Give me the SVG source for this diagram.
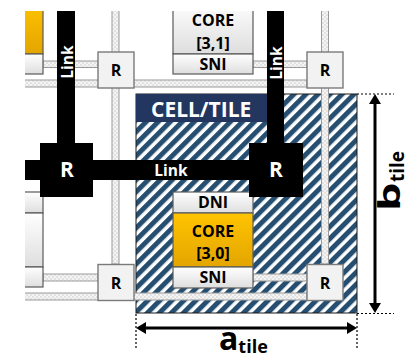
<svg xmlns="http://www.w3.org/2000/svg" width="409" height="359" viewBox="0 0 409 359">
<style>
text{font-family:"Open Sans","Liberation Sans",sans-serif;font-weight:bold}
.box{stroke:#5a5a5a;stroke-width:1.2}
.gray{fill:url(#gGray)}
.yel{fill:url(#gYel)}
.lbl{font-size:16px;fill:#000;text-anchor:middle}
.rtr rect{fill:#f2f2f2;stroke:#7a7a7a;stroke-width:1.4}
.rtr text{font-size:16px;fill:#000;text-anchor:middle}
.lnk{fill:url(#checker);stroke:#9a9a9a;stroke-width:1}
.blk{fill:#000}
.wt{fill:#fff;text-anchor:middle}
.dim{stroke:#000;stroke-width:3;fill:none}
.dot{stroke:#000;stroke-width:1.2;stroke-dasharray:2 2;fill:none}
</style>
<defs>
<linearGradient id="gGray" x1="0" y1="0" x2="0" y2="1"><stop offset="0" stop-color="#ffffff"/><stop offset="1" stop-color="#dedede"/></linearGradient>
<linearGradient id="gYel" x1="0" y1="0" x2="0" y2="1"><stop offset="0" stop-color="#ffc400"/><stop offset="1" stop-color="#e3a500"/></linearGradient>
<pattern id="checker" width="4" height="4" patternUnits="userSpaceOnUse"><rect width="4" height="4" fill="#f4f4f4"/><rect width="2" height="2" fill="#e2e2e2"/><rect x="2" y="2" width="2" height="2" fill="#e2e2e2"/></pattern>
<pattern id="hatch" width="8.5" height="8.5" patternUnits="userSpaceOnUse" patternTransform="rotate(45)"><rect width="8.5" height="8.5" fill="#fff"/><rect width="5" height="8.5" fill="#254e71"/></pattern>
<marker id="ah" viewBox="0 0 10 12" refX="6" refY="6" markerWidth="10" markerHeight="12" markerUnits="userSpaceOnUse" orient="auto-start-reverse"><path d="M0,0 L10,6 L0,12 z" fill="#000"/></marker>
<clipPath id="cp"><rect x="25" y="11" width="384" height="348"/></clipPath>
</defs>
<g clip-path="url(#cp)">
<g id="cell-tile">
<rect x="136" y="94" width="221" height="219" fill="url(#hatch)" stroke="#1a1a1a" stroke-width="1"/>
<rect x="136" y="94" width="132" height="28" fill="#23365f"/>
<text x="151" y="117" font-size="21" fill="#fff">CELL/TILE</text>
</g>
<g id="connectors">
<rect class="lnk" x="112" y="0" width="7" height="264"/>
<rect class="lnk" x="321.5" y="0" width="7" height="264"/>
<rect class="lnk" x="43" y="61" width="55" height="6.5"/>
<rect class="lnk" x="253" y="61" width="54" height="6.5"/>
<rect class="lnk" x="0" y="80" width="307" height="7"/>
<rect class="lnk" x="43" y="274" width="55" height="7"/>
<rect class="lnk" x="253" y="274" width="54" height="7"/>
<rect class="lnk" x="0" y="293" width="307" height="7"/>
<g id="black-links">
<rect class="blk" x="57" y="0" width="18" height="145"/>
<rect class="blk" x="267" y="0" width="17" height="145"/>
<rect class="blk" x="0" y="160" width="251" height="20"/>
<text class="wt" font-size="15.5" transform="translate(73,62) rotate(-90)">Link</text>
<text class="wt" font-size="15.5" transform="translate(282,63) rotate(-90)">Link</text>
<text class="wt" x="171" y="176" font-size="15.5">Link</text>
</g>
</g>
<g id="core-2-1">
<rect class="box yel" x="0" y="0" width="43" height="54"/>
<rect class="box gray" x="0" y="54" width="43" height="20"/>
</g>
<g id="core-2-0">
<rect class="box gray" x="0" y="192" width="43" height="21"/>
<rect class="box gray" x="0" y="213" width="43" height="54"/>
<rect class="box gray" x="0" y="267" width="43" height="20"/>
</g>
<g id="core-3-1">
<rect class="box gray" x="173" y="0" width="80" height="54"/>
<rect class="box gray" x="173" y="54" width="80" height="20"/>
<text class="lbl" x="213" y="26">CORE</text>
<text class="lbl" x="213" y="49">[3,1]</text>
<text class="lbl" x="213" y="70">SNI</text>
</g>
<g id="core-3-0">
<rect class="box gray" x="173" y="192" width="80" height="21"/>
<rect class="box yel" x="173" y="213" width="80" height="54"/>
<rect class="box gray" x="173" y="267" width="80" height="21"/>
<text class="lbl" x="213" y="208">DNI</text>
<text class="lbl" x="213" y="237">CORE</text>
<text class="lbl" x="213" y="259">[3,0]</text>
<text class="lbl" x="213" y="283">SNI</text>
</g>
<g id="router-tl" class="rtr"><rect x="98" y="52" width="36" height="36"/><text x="116" y="76">R</text></g>
<g id="router-tr" class="rtr"><rect x="307" y="52" width="36" height="36"/><text x="325" y="76">R</text></g>
<g id="router-bl" class="rtr"><rect x="98" y="264.5" width="36" height="36"/><text x="116" y="288.5">R</text></g>
<g id="router-br" class="rtr"><rect x="307" y="264.5" width="36" height="36"/><text x="325" y="288.5">R</text></g>
<g id="big-router-left"><rect class="blk" x="40" y="143" width="53" height="54"/><text class="wt" x="67" y="177" font-size="21">R</text></g>
<g id="big-router-right"><rect class="blk" x="249" y="143" width="54" height="54"/><text class="wt" x="276" y="177" font-size="21">R</text></g>
<g id="dimensions">
<line class="dot" x1="136" y1="314" x2="136" y2="350"/>
<line class="dot" x1="357" y1="314" x2="357" y2="350"/>
<line class="dot" x1="357" y1="94" x2="394" y2="94"/>
<line class="dot" x1="357" y1="313.5" x2="394" y2="313.5"/>
<line class="dim" x1="140" y1="328" x2="353" y2="328" marker-start="url(#ah)" marker-end="url(#ah)"/>
<line class="dim" x1="375" y1="98" x2="375" y2="309" marker-start="url(#ah)" marker-end="url(#ah)"/>
</g>
</g>
<g id="dimension-labels">
<text x="219" y="350" font-size="32" fill="#000">a<tspan font-size="18" dy="3">tile</tspan></text>
<text font-size="30" fill="#000" transform="translate(400,211) rotate(-90) scale(1.5,1)">b</text>
<text font-size="19" fill="#000" transform="translate(404,182) rotate(-90)">tile</text>
</g>
</svg>
